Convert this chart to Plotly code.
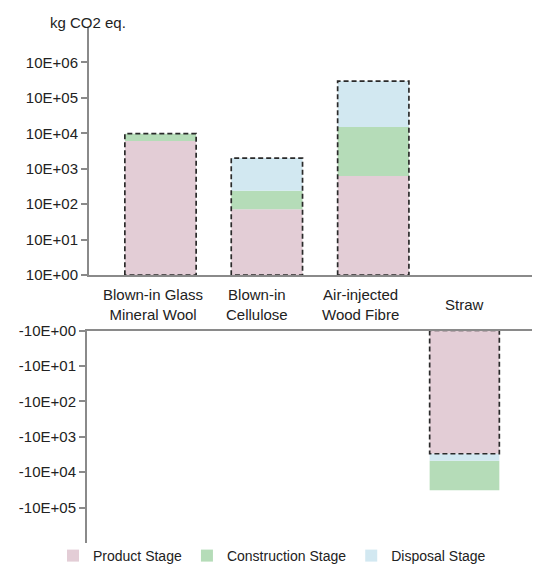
import plotly.graph_objects as go

# ---- data (kg CO2 eq.) ----
categories = ["Blown-in Glass<br>Mineral Wool", "Blown-in<br>Cellulose",
              "Air-injected<br>Wood Fibre", "Straw"]
stages = ["Product Stage", "Construction Stage", "Disposal Stage"]
product = [6100, 72, 630, -3020]
construction = [3700, 168, 14400, -27500]
disposal = [0, 1760, 282000, -1770]
outline_total = [9800, 2000, 297000, -3020]
# stacking order of the segments, per category
stack_order = [
    ["Product Stage", "Construction Stage", "Disposal Stage"],
    ["Product Stage", "Construction Stage", "Disposal Stage"],
    ["Product Stage", "Construction Stage", "Disposal Stage"],
    ["Product Stage", "Disposal Stage", "Construction Stage"],
]
pos_ticks = [1, 10, 100, 1000, 10000, 100000, 1000000]
pos_ticktext = ["10E+00", "10E+01", "10E+02", "10E+03", "10E+04", "10E+05", "10E+06"]
neg_ticks = [1, 10, 100, 1000, 10000, 100000]
neg_ticktext = ["-10E+00", "-10E+01", "-10E+02", "-10E+03", "-10E+04", "-10E+05"]

# ---- styles ----
colors = {"Product Stage": "#E3CDD6", "Construction Stage": "#B5DCB8",
          "Disposal Stage": "#D2E8F1"}
FONT = "Liberation Sans, Arial, sans-serif"
TXT = "#222222"
AX = "#8a8a8a"
BW = 0.67

values = {"Product Stage": product, "Construction Stage": construction,
          "Disposal Stage": disposal}

# segments: (base, size) in magnitude space
segments = {s: [None] * len(categories) for s in stages}
for i in range(len(categories)):
    cum = 0.0
    for s in stack_order[i]:
        v = abs(values[s][i])
        base = max(cum, 1.0)
        top = cum + v
        segments[s][i] = (base, max(top - base, 0.0))
        cum = top

fig = go.Figure()
top_idx = [i for i in range(len(categories)) if product[i] >= 0]
bot_idx = [i for i in range(len(categories)) if product[i] < 0]

for s in stages:
    fig.add_trace(go.Bar(
        x=top_idx, y=[segments[s][i][1] for i in top_idx],
        base=[segments[s][i][0] for i in top_idx],
        width=BW, marker=dict(color=colors[s], line=dict(width=0)),
        name=s, legendgroup=s, showlegend=True, xaxis="x", yaxis="y"))
    fig.add_trace(go.Bar(
        x=bot_idx, y=[segments[s][i][1] for i in bot_idx],
        base=[segments[s][i][0] for i in bot_idx],
        width=BW, marker=dict(color=colors[s], line=dict(width=0)),
        name=s, legendgroup=s, showlegend=False, xaxis="x2", yaxis="y2"))

# dashed outlines
for i in range(len(categories)):
    t = abs(outline_total[i])
    xs = [i - BW / 2, i - BW / 2, i + BW / 2, i + BW / 2, i - BW / 2]
    ys = [1, t, t, 1, 1]
    ax = ("x", "y") if outline_total[i] >= 0 else ("x2", "y2")
    fig.add_trace(go.Scatter(
        x=xs, y=ys, mode="lines", line=dict(color="#2a2a2a", width=1.7, dash="5px,3px"),
        showlegend=False, hoverinfo="skip", cliponaxis=False,
        xaxis=ax[0], yaxis=ax[1]))

# the page body adds an 8px offset; layout numbers below are in screen pixels
OFF = 8
W, H = 540 - OFF, 568 - OFF
ml, mr, mt = 87 - OFF, 0, 28 - OFF
mb = H - (543.3 - OFF)
pw = W - ml - mr
ph = H - mt - mb


def py(y):  # screen y -> paper fraction
    return (H - mb - (y - OFF)) / ph


def px(x):  # screen x -> paper fraction
    return (x - OFF - ml) / pw


annotations = [dict(text="kg CO2 eq.", xref="paper", yref="paper",
                    x=px(88), y=py(22), xanchor="center",
                    yanchor="middle", showarrow=False,
                    font=dict(size=15, color=TXT))]
for i, c in enumerate(categories):
    annotations.append(dict(text=c, xref="x2", yref="paper", x=i, y=py(304.5),
                            xanchor="center", yanchor="middle", showarrow=False,
                            align="center", font=dict(size=15, color=TXT)))

fig.update_layout(
    width=W, height=H,
    margin=dict(l=ml, r=mr, t=mt, b=mb, autoexpand=False),
    paper_bgcolor="white", plot_bgcolor="white",
    barmode="overlay",
    font=dict(family=FONT, size=15, color=TXT),
    showlegend=True,
    legend=dict(orientation="h", xref="container", yref="container",
                x=(53 - OFF) / W, xanchor="left",
                y=1 - (556 - OFF) / H, yanchor="middle",
                font=dict(size=14, color=TXT), traceorder="normal",
                bgcolor="rgba(0,0,0,0)"),
    xaxis=dict(domain=[px(89), 1], range=[-0.672, 3.567], anchor="y",
               showticklabels=False, ticks="", showgrid=False, zeroline=False,
               showline=True, linecolor=AX, linewidth=2, automargin=False),
    yaxis=dict(domain=[py(275.3), 1], type="log", range=[0, 6.97],
               anchor="x", tickvals=pos_ticks, ticktext=pos_ticktext,
               ticks="outside", ticklen=6, tickwidth=1.5, tickcolor=AX,
               showgrid=False, zeroline=False, showline=True, linecolor=AX,
               linewidth=2, tickfont=dict(size=15, color=TXT), automargin=False),
    xaxis2=dict(domain=[0, 1], range=[-0.63, 3.726], anchor="y2", side="top",
                tickvals=list(range(len(categories))), showticklabels=False,
                ticks="", showgrid=False, zeroline=False, showline=True,
                linecolor=AX, linewidth=2, automargin=False),
    yaxis2=dict(domain=[0, py(330.7)], type="log", range=[6.0, 0],
                anchor="x2", tickvals=neg_ticks, ticktext=neg_ticktext,
                ticks="outside", ticklen=6, tickwidth=1.5, tickcolor=AX,
                showgrid=False, zeroline=False, showline=True, linecolor=AX,
                linewidth=2, tickfont=dict(size=15, color=TXT), automargin=False),
    annotations=annotations,
)

fig.write_html("out.html")
